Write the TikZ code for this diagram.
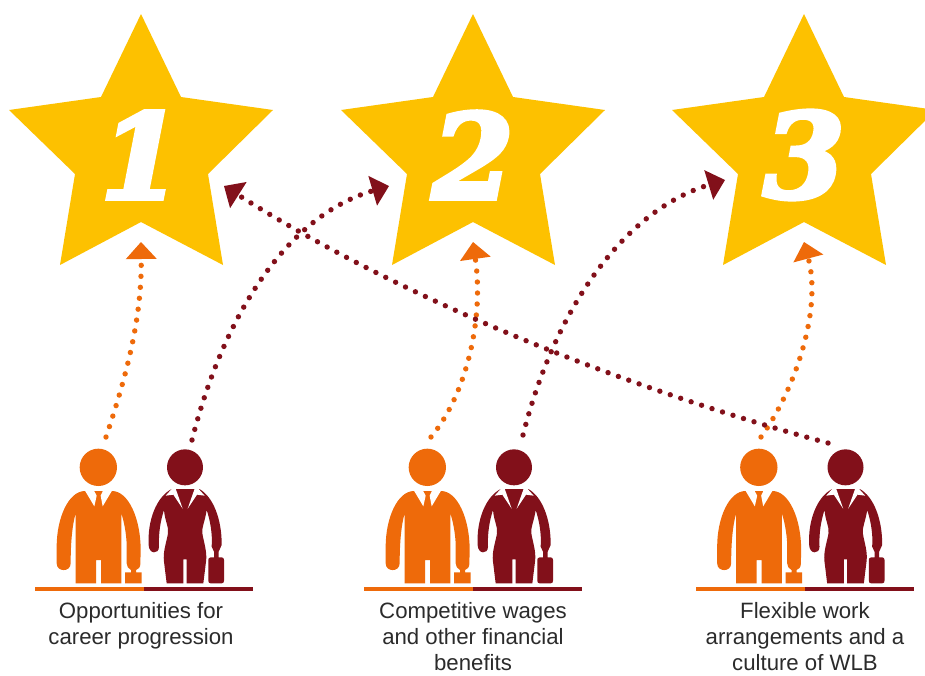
\documentclass[tikz,border=0pt]{standalone}
\usepackage{fontspec}
\setmainfont{Liberation Sans}
\newfontfamily\numfont[BoldItalicFeatures={FakeBold=4}]{DejaVu Serif}
\usetikzlibrary{arrows.meta}
\definecolor{gold}{HTML}{FDC100}
\definecolor{orangeM}{HTML}{EE6A0A}
\definecolor{maroon}{HTML}{82101A}
\definecolor{txt}{HTML}{2B2B2B}
\tikzset{
  dotline/.style={line width=5.4pt,line cap=round,dash pattern=on 0pt off 11pt},
  odots/.style={dotline,draw=orangeM,-{Triangle[length=17pt,width=31pt,round=false,line width=0pt]}},
  mdots/.style={dotline,draw=maroon,-{Triangle[length=17pt,width=31pt,round=false,line width=0pt]}},
  capt/.style={align=center,text=txt,font=\fontsize{22.2}{25.9}\selectfont,inner sep=0pt,anchor=north},
  numb/.style={text=white,font=\numfont\bfseries\itshape\fontsize{117}{117}\selectfont,inner sep=0pt}
}
\newcommand{\starshape}[1]{%
  \fill[gold,shift={(#1,0)}] (141,14) -- (181,97) -- (273,110) -- (208,174) -- (223,265) -- (141,222) -- (60,265) -- (75,174) -- (9,110) -- (101,97) -- cycle;}
\newcommand{\people}[1]{%
  \begin{scope}[shift={(30+#1,430)},x=0.33333pt,y=-0.33333pt]
    % man
    \fill[orangeM] (205,112) circle[radius=56];
    \fill[orangeM] (165,183) -- (246,183) .. controls (295,183) and (332,265) .. (332,360) -- (331,402)
      .. controls (331,412) and (325,418) .. (318,420) -- (318,427) -- (335,427) -- (335,460) -- (285,460) -- (285,427) -- (303,427) -- (303,420)
      .. controls (295,415) and (290,410) .. (290,400) -- (290,340) .. controls (288,305) and (282,275) .. (274,250)
      -- (274,460) -- (213,460) -- (213,390) -- (198,390) -- (198,460) -- (137,460) -- (137,250)
      .. controls (127,285) and (122,335) .. (122,400) .. controls (122,427) and (80,427) .. (80,400)
      -- (80,350) .. controls (80,265) and (115,183) .. (165,183) -- cycle;
    \fill[white] (165,182) -- (192,182) -- (200,197) -- (193,229) -- cycle;
    \fill[white] (246,182) -- (219,182) -- (212,197) -- (218,229) -- cycle;
    % woman
    \fill[maroon] (465,112) circle[radius=54];
    \fill[maroon] (425,177) -- (508,177) .. controls (550,200) and (576,270) .. (575,345) -- (566,365) -- (566,382) -- (575,382)
      .. controls (580,382) and (582,386) .. (582,390) -- (582,452) .. controls (582,457) and (580,460) .. (575,460)
      -- (542,460) .. controls (537,460) and (535,457) .. (535,452) -- (535,390) .. controls (535,386) and (537,382) .. (542,382)
      -- (552,382) -- (552,365) -- (545,350) .. controls (548,310) and (540,270) .. (530,240)
      .. controls (525,275) and (515,290) .. (517,310) .. controls (522,340) and (532,365) .. (528,395) -- (520,460)
      -- (470,460) -- (470,388) -- (460,388) -- (460,460) -- (410,460) -- (402,395)
      .. controls (398,365) and (410,335) .. (414,310) .. controls (417,290) and (405,275) .. (402,240)
      .. controls (392,270) and (385,310) .. (387,350) .. controls (387,375) and (356,372) .. (356,345)
      .. controls (352,270) and (380,200) .. (425,177) -- cycle;
    \fill[white] (426,176) -- (407,197) -- (430,194) -- (458,236) -- (437,176) -- cycle;
    \fill[white] (505,176) -- (524,197) -- (501,194) -- (473,236) -- (494,176) -- cycle;
    % base rule
    \fill[orangeM] (15,472) rectangle (342,484);
    \fill[maroon] (342,472) rectangle (670,484);
  \end{scope}}
\begin{document}
\begin{tikzpicture}[x=1pt,y=-1pt]
\useasboundingbox (0,0) rectangle (925,675);
\fill[white] (0,0) rectangle (925,675);
\starshape{0}\starshape{332}\starshape{663}
\node[numb] (n1) at (141,155) {1};
\node[numb] (n2) at (473,155) {2};
\node[numb] (n3) at (804,155) {3};
\people{0}\people{329}\people{660.5}
\node[capt] (c1) at (141,602) {Opportunities for\\career progression};
\node[capt] (c2) at (473,602) {Competitive wages\\and other financial\\benefits};
\node[capt] (c3) at (805,602) {Flexible work\\arrangements and a\\culture of WLB};
\coordinate (o1s) at (106,437); \coordinate (o1e) at (141,242);
\coordinate (m1s) at (192,440); \coordinate (m1e) at (389,186);
\coordinate (o2s) at (431,437); \coordinate (o2e) at (473,242);
\coordinate (m2s) at (523,435); \coordinate (m2e) at (725,180);
\coordinate (o3s) at (761,437); \coordinate (o3e) at (804,242);
\coordinate (m3s) at (828,443); \coordinate (m3e) at (224,186);
\draw[odots] (o1s) .. controls (125,380) and (142,320) .. (o1e);
\draw[mdots] (m1s) .. controls (225,310) and (290,215) .. (m1e);
\draw[odots] (o2s) .. controls (466,395) and (484,320) .. (o2e);
\draw[mdots] (m2s) .. controls (556,305) and (626,210) .. (m2e);
\draw[odots] (o3s) .. controls (795,390) and (822,310) .. (o3e);
\draw[mdots] (m3s) .. controls (650,395) and (420,310) .. (m3e);
\end{tikzpicture}
\end{document}
